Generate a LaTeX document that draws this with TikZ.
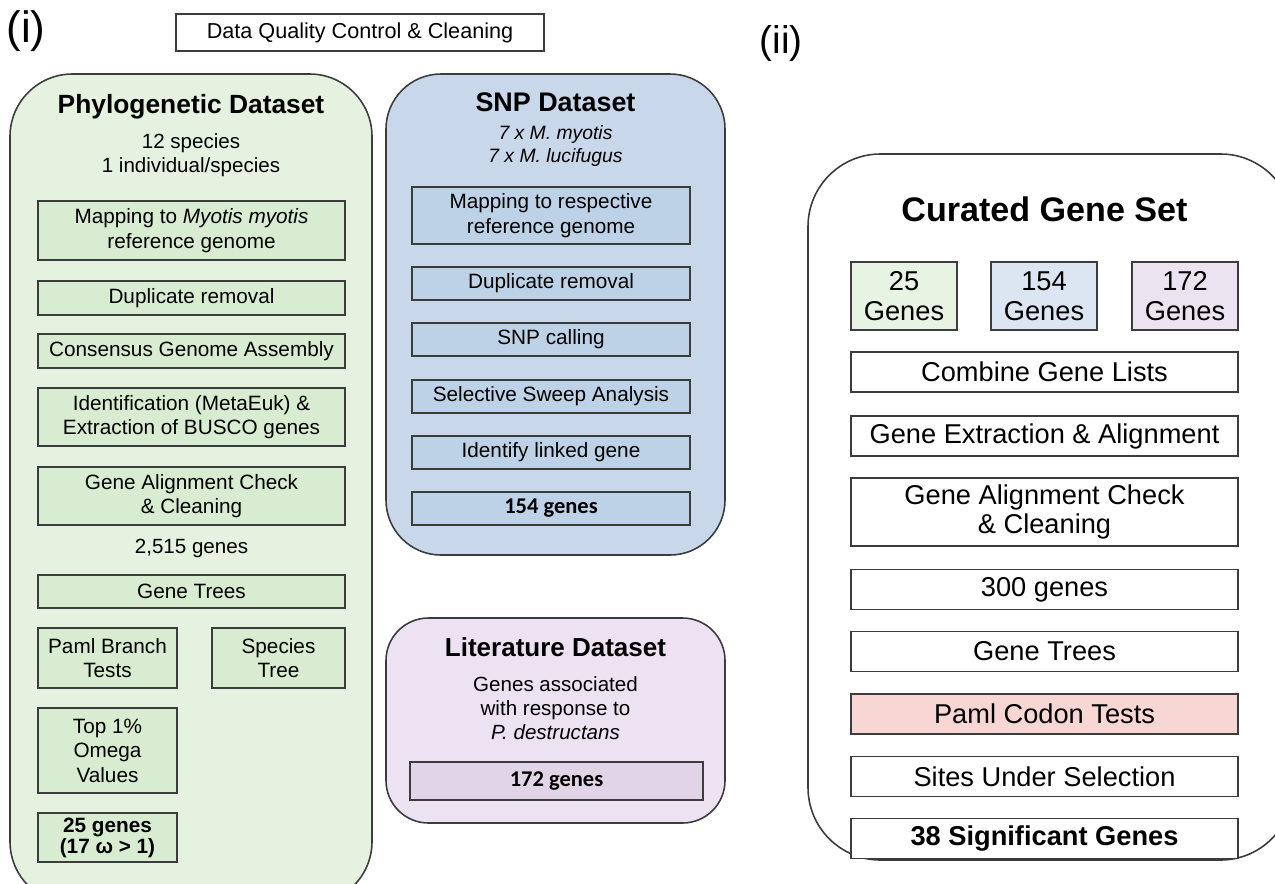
\documentclass[tikz,border=0pt]{standalone}
\usepackage{fontspec}
\setmainfont{Liberation Sans}
\newfontfamily\calibri{Carlito}
\usetikzlibrary{positioning}
\definecolor{ink}{RGB}{60,60,60}
\definecolor{phylobg}{RGB}{229,242,224}
\definecolor{phylobox}{RGB}{216,236,209}
\definecolor{snpbg}{RGB}{200,216,234}
\definecolor{snpbox}{RGB}{189,209,231}
\definecolor{litbg}{RGB}{236,226,241}
\definecolor{litbox}{RGB}{226,212,231}
\definecolor{codon}{RGB}{247,214,212}
\definecolor{sgreen}{RGB}{232,244,227}
\definecolor{sblue}{RGB}{220,230,243}
\definecolor{spurple}{RGB}{236,227,240}
\tikzset{
  panel/.style={draw=ink,line width=0.9pt,fill=#1},
  panel/.default=white,
  stepbox/.style={draw=ink,line width=0.7pt,fill=#1,align=center,inner sep=0pt,
    font=\fontsize{11.8}{14}\selectfont},
  stepbox/.default=white,
  bigbox/.style={draw=ink,line width=0.7pt,fill=#1,align=center,inner sep=0pt,
    minimum width=7.74cm,font=\fontsize{15.5}{17}\selectfont},
  bigbox/.default=white,
  ptitle/.style={font=\fontsize{15}{17}\selectfont\bfseries},
  plain/.style={align=center,font=\fontsize{11.7}{13.8}\selectfont},
  tag/.style={font=\fontsize{25}{28}\selectfont},
}
\newcommand{\comma}{,}

\begin{document}
\begin{tikzpicture}
  \useasboundingbox (0,0) rectangle (25.5,-17.66);
  \node[tag] (ti) at (0.52,-0.62) {(i)};
  \node[tag,font=\fontsize{22}{26}\selectfont] (tii) at (15.62,-0.86) {(ii)};
  \node[stepbox,minimum width=7.36cm,minimum height=0.74cm,font=\fontsize{12.3}{14}\selectfont] (qc) at (7.2,-0.65) {Data Quality Control \& Cleaning};

  % phylogenetic dataset
  \node[panel=phylobg,rounded corners=1.25cm,minimum width=7.24cm,minimum height=16.6cm] (phylo) at (3.82,-9.78) {};
  \node[ptitle] (phylot) at (3.82,-2.14) {Phylogenetic Dataset};
  \node[plain] (phylos) at (3.82,-3.11) {12 species\\1 individual/species};
  \foreach \n/\y/\h/\t in {
    pmap/-4.61/1.18/Mapping to \textit{Myotis myotis}\\reference genome,
    pdup/-5.96/0.68/Duplicate removal,
    pcons/-7.02/0.68/Consensus Genome Assembly,
    pid/-8.34/1.16/Identification (MetaEuk) \&\\Extraction of BUSCO genes,
    pgac/-9.92/1.16/Gene Alignment Check\\\& Cleaning,
    ptree/-11.83/0.66/Gene Trees}
  {
    \node[stepbox=phylobox,minimum width=6.14cm,minimum height=\h cm] (\n) at (3.83,\y) {\t};
  }
  \node[plain] (pcount) at (3.83,-10.96) {2\comma515 genes};
  \node[stepbox=phylobox,minimum width=2.78cm,minimum height=1.2cm] (pbranch) at (2.15,-13.16) {Paml Branch\\Tests};
  \node[stepbox=phylobox,minimum width=2.66cm,minimum height=1.2cm] (pspec) at (5.57,-13.16) {Species\\Tree};
  \node[stepbox=phylobox,minimum width=2.78cm,minimum height=1.7cm] (ptop) at (2.15,-15.01) {Top 1\%\\Omega\\Values};
  \node[stepbox=phylobox,minimum width=2.78cm,minimum height=0.98cm,font=\fontsize{11.8}{10}\selectfont\bfseries] (p25) at (2.15,-16.75) {\raisebox{-2pt}{25 genes}\\(17 ω > 1)};

  % snp dataset
  \node[panel=snpbg,rounded corners=1.1cm,minimum width=6.78cm,minimum height=9.62cm] (snp) at (11.11,-6.29) {};
  \node[ptitle,font=\fontsize{15.3}{17}\selectfont\bfseries] (snpt) at (11.11,-2.04) {SNP Dataset};
  \node[plain,font=\fontsize{11}{13.6}\selectfont\itshape] (snps) at (11.11,-2.92) {7 x M. myotis\\7 x M. lucifugus};
  \node[stepbox=snpbox,minimum width=5.56cm,minimum height=1.14cm] (smap) at (11.02,-4.31) {Mapping to respective\\reference genome};
  \foreach \n/\y/\t in {
    sdup/-5.67/Duplicate removal,
    scall/-6.79/SNP calling,
    ssweep/-7.93/Selective Sweep Analysis,
    slink/-9.05/Identify linked gene}
  {
    \node[stepbox=snpbox,minimum width=5.56cm,minimum height=0.66cm] (\n) at (11.02,\y) {\t};
  }
  \node[stepbox=snpbox,minimum width=5.56cm,minimum height=0.66cm,font=\calibri\fontsize{12.8}{14}\selectfont\bfseries] (s154) at (11.02,-10.17) {154 genes};

  % literature dataset
  \node[panel=litbg,rounded corners=0.85cm,minimum width=6.78cm,minimum height=4.1cm] (lit) at (11.11,-14.41) {};
  \node[ptitle,font=\fontsize{14.8}{17}\selectfont\bfseries] (litt) at (11.11,-12.94) {Literature Dataset};
  \node[plain] (lits) at (11.11,-14.16) {Genes associated\\with response to\\\textit{P. destructans}};
  \node[stepbox=litbox,minimum width=5.86cm,minimum height=0.76cm,font=\calibri\fontsize{12.8}{14}\selectfont\bfseries] (l172) at (11.13,-15.62) {172 genes};

  % curated gene set
  \node[panel,rounded corners=1.45cm,minimum width=9.7cm,minimum height=14.12cm] (cur) at (21.01,-10.14) {};
  \node[font=\fontsize{19.4}{22}\selectfont\bfseries] (curt) at (20.89,-4.18) {Curated Gene Set};
  \foreach \n/\x/\c/\t in {c25/18.08/sgreen/25, c154/20.88/sblue/154, c172/23.7/spurple/172}
  {
    \node[bigbox=\c,minimum width=2.12cm,minimum height=1.36cm] (\n) at (\x,-5.92) {\t\\Genes};
  }
  \foreach \n/\y/\h/\c/\t in {
    ccomb/-7.44/0.8/white/Combine Gene Lists,
    cext/-8.72/0.8/white/Gene Extraction \& Alignment,
    cgac/-10.24/1.36/white/Gene Alignment Check\\\& Cleaning,
    c300/-11.79/0.8/white/300 genes,
    ctree/-13.03/0.8/white/Gene Trees,
    ccodon/-14.28/0.8/codon/Paml Codon Tests,
    csites/-15.53/0.8/white/Sites Under Selection}
  {
    \node[bigbox=\c,minimum height=\h cm] (\n) at (20.89,\y) {\t};
  }
  \node[bigbox,minimum height=0.8cm,font=\fontsize{15.5}{17}\selectfont\bfseries] (c38) at (20.89,-16.77) {38 Significant Genes};
\end{tikzpicture}
\end{document}
